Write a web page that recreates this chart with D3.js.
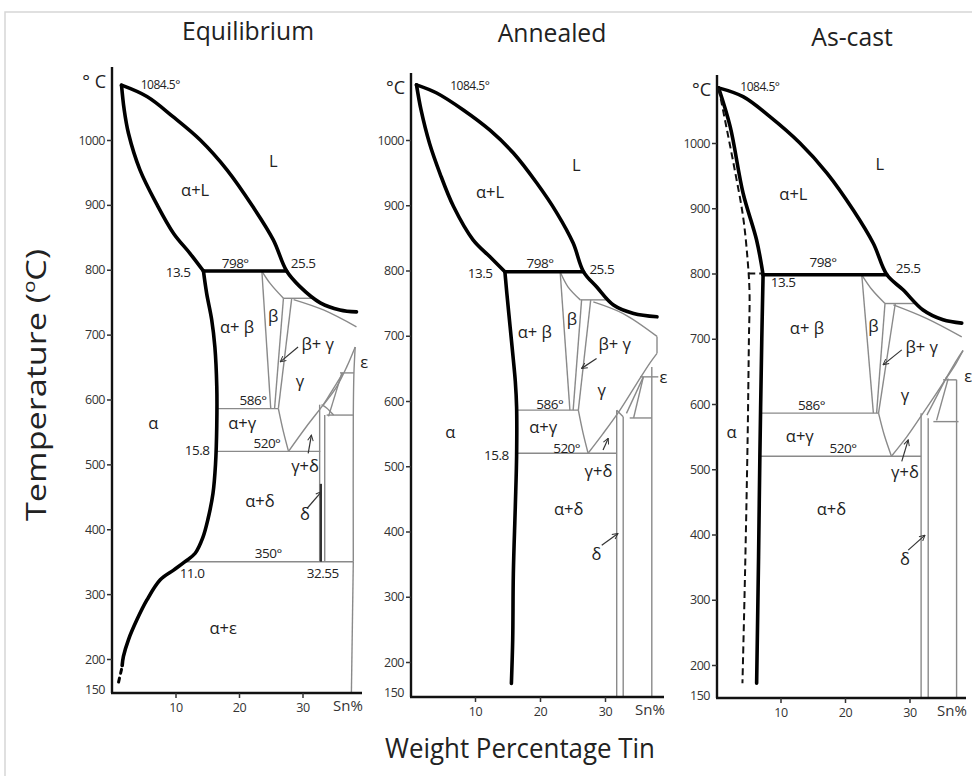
<!DOCTYPE html>
<html><head><meta charset="utf-8">
<script src="https://cdn.jsdelivr.net/npm/d3@7"></script>
<style>body{margin:0;background:#fff}</style>
</head><body><svg id="c" width="972" height="776"></svg>
<script>
// ---------------- DATA (wt% Sn, °C) ----------------
const panelTitles = ["Equilibrium", "Annealed", "As-cast"];
const yTickValues = [200, 300, 400, 500, 600, 700, 800, 900, 1000];
const yBottomLabel = 150;
const xTickValues = [10, 20, 30];
const xUnitLabel = "Sn%";
const unitLabels = ["° C", "°C", "°C"];

// Equilibrium
const eqLiquidus = [[1.5,1084.5],[5.5,1067],[9.6,1036],[13.9,1000],[18.1,954],[22.2,897],[25.4,846],[27.5,798],[29.6,774],[32.8,749],[35.9,738],[38.5,735]];
const eqSolidus = [[1.5,1084.5],[1.9,1048],[2.6,1010],[4.4,954],[7.0,902],[9.7,856],[12.3,825],[14.4,798]];
const eqEutectic = [[14.4,798],[27.5,798]];
const eqSolvus = [[14.4,798],[14.9,764],[15.7,723],[16.2,681],[16.5,620],[16.5,560],[16.3,500],[15.9,455],[15.1,415],[14.3,387],[13.1,363],[11.5,350],[9.7,337],[7.6,322],[5.5,291],[3.9,260],[2.6,230],[1.8,204],[1.6,190]];
const eqSolvusTail = [[1.5,184],[1.0,163]];
const eqDeltaDark = [[32.9,470],[32.9,350]];
const eqPhaseLines = [
  [[23.6,798],[24.9,779],[27.0,756]],
  [[27.0,756],[31.7,756]],
  [[28.6,754],[33.3,738],[38.5,712]],
  [[23.6,798],[25.0,586]],
  [[27.0,756],[25.6,586]],
  [[28.3,756],[26.2,586]],
  [[16.5,586],[26.2,586]],
  [[26.2,586],[27.0,550],[27.8,520]],
  [[16.5,520],[32.8,520]],
  [[27.8,520],[30.6,558],[33.3,592],[35.4,620],[37.0,651],[38.3,681]],
  [[38.3,681],[38.1,641],[38.0,576],[38.0,350]],
  [[38.0,350],[37.7,148]],
  [[35.9,641],[38.1,641]],
  [[33.8,576],[38.0,576]],
  [[33.3,592],[36.4,641]],
  [[34.1,574],[36.2,641]],
  [[33.0,592],[33.8,587],[34.9,576]],
  [[32.7,592],[32.7,350]],
  [[33.5,576],[33.5,350]],
  [[11.5,350],[38.0,350]]
];
const eqArrows = [[[29.3,681],[26.5,658]],[[30.9,517],[31.4,545]],[[30.7,432],[33.0,458]]];
const eqLabels = [
  ["1084.5°",7.6,1085,"s"],["L",25.4,969,"r"],["α+L",13.1,923,"r"],["13.5",10.4,797,"n"],
  ["798°",19.4,810,"n"],["25.5",30.1,810,"n"],["α+ β",19.7,712,"r"],["β",25.4,730,"r"],
  ["β+ γ",32.4,687,"r"],["ε",39.7,658,"r"],["γ",29.6,630,"r"],["586°",22.2,599,"n"],
  ["α",6.5,564,"r"],["α+γ",20.5,565,"r"],["15.8",13.4,522,"n"],["520°",24.4,533,"n"],
  ["γ+δ",30.4,499,"r"],["α+δ",23.3,445,"r"],["δ",30.4,425,"r"],["350°",24.6,364,"n"],
  ["11.0",12.6,333,"n"],["32.55",33.2,333,"n"],["α+ε",17.5,248,"r"]
];

// Annealed
const anLiquidus = [[1.0,1084.5],[4.1,1072],[8.2,1046],[12.3,1015],[15.9,980],[19.5,934],[22.6,888],[25.1,842],[26.7,798],[28.7,775],[31.3,747],[34.4,734],[38.0,729]];
const anSolidus = [[1.0,1084.5],[1.7,1046],[3.0,995],[4.6,949],[6.7,898],[9.7,847],[12.3,821],[14.6,798]];
const anEutectic = [[14.6,798],[26.7,798]];
const anSolvus = [[14.6,798],[14.9,765],[15.4,714],[15.9,663],[16.2,630],[16.4,591],[16.4,515],[16.2,438],[15.9,336],[15.8,234],[15.6,167]];
const anPhaseLines = [
  [[23.1,798],[24.3,775],[26.2,755]],
  [[26.2,755],[30.3,755]],
  [[28.2,752],[32.8,734],[38.0,699]],
  [[38.0,699],[38.0,673]],
  [[23.1,798],[24.6,586]],
  [[26.4,755],[25.1,586]],
  [[27.8,755],[25.9,586]],
  [[16.4,586],[25.9,586]],
  [[25.9,586],[26.6,552],[27.4,520]],
  [[16.4,520],[31.8,520]],
  [[27.4,520],[29.7,550],[32.3,586],[34.9,627],[36.9,658],[38.0,673]],
  [[35.4,637],[37.2,637]],
  [[33.8,574],[37.2,574]],
  [[37.2,652],[37.2,147]],
  [[33.3,581],[35.9,637]],
  [[34.4,574],[35.9,637]],
  [[31.8,586],[31.8,147]],
  [[32.8,576],[32.8,147]],
  [[31.8,586],[32.8,576]],
  [[37.2,637],[38.2,637]]
];
const anArrows = [[[28.7,665],[26.4,650]],[[29.7,525],[30.5,543]],[[29.5,379],[32.0,397]]];
const anLabels = [
  ["1084.5°",9.2,1084,"s"],["L",25.6,962,"r"],["α+L",12.3,921,"r"],["13.5",10.8,796,"n"],
  ["798°",20.0,811,"n"],["25.5",29.5,803,"n"],["α+ β",19.2,706,"r"],["β",24.9,727,"r"],
  ["β+ γ",31.5,688,"r"],["γ",29.5,617,"r"],["586°",21.5,596,"n"],["α",6.2,553,"r"],
  ["α+γ",20.5,561,"r"],["15.8",13.3,517,"n"],["520°",24.1,528,"n"],["γ+δ",29.0,494,"r"],
  ["α+δ",24.4,436,"r"],["δ",28.7,367,"r"],["ε",39.0,637,"r"]
];

// As-cast
const acLiquidus = [[0.4,1084.5],[4.2,1071],[8.4,1040],[13.0,1000],[17.2,954],[21.3,897],[24.4,846],[26.5,798],[29.0,775],[32.1,744],[35.2,729],[38.1,724]];
const acSolidus = [[0.4,1084.5],[2.2,1025],[4.2,923],[6.3,851],[7.3,798]];
const acEutectic = [[7.3,798],[26.5,798]];
const acSolvus = [[7.3,798],[7.1,700],[6.8,519],[6.6,366],[6.3,172]];
const acCoring = [[0.4,1084.5],[1.6,1025],[2.9,959],[4.2,887],[4.9,821],[5.2,770],[5.1,698],[4.9,545],[4.5,340],[4.1,172]];
const acCoringTie = [[5.0,800],[7.2,800]];
const acPhaseLines = [
  [[22.6,798],[24.2,775],[26.2,754]],
  [[26.2,754],[30.8,754]],
  [[27.5,752],[32.7,731],[38.1,703]],
  [[22.6,798],[24.4,586]],
  [[26.2,754],[24.9,586]],
  [[27.8,754],[25.2,586]],
  [[7.0,586],[25.2,586]],
  [[25.2,586],[26.1,552],[27.2,520]],
  [[6.8,520],[31.8,520]],
  [[27.2,520],[29.6,550],[32.1,586],[35.2,632],[37.3,667],[38.3,682]],
  [[35.6,638],[37.2,662],[38.3,682]],
  [[35.2,637],[37.3,637]],
  [[33.7,573],[37.6,573]],
  [[37.3,637],[37.3,149]],
  [[32.7,583],[35.8,642]],
  [[34.2,575],[36.0,639]],
  [[31.8,586],[31.8,149]],
  [[32.9,578],[32.9,149]]
];
const acArrows = [[[28.8,683],[25.9,660]],[[28.8,512],[29.8,545]],[[29.8,376],[32.4,399]]];
const acLabels = [
  ["1084.5°",6.8,1086,"s"],["L",25.4,969,"r"],["α+L",12.0,923,"r"],["798°",16.6,818,"n"],
  ["25.5",29.8,808,"n"],["13.5",10.4,787,"n"],["α+ β",14.1,718,"r"],["β",24.4,721,"r"],
  ["β+ γ",31.9,688,"r"],["γ",29.3,614,"r"],["586°",14.8,598,"n"],["α",2.4,558,"r"],
  ["α+γ",13.0,552,"r"],["520°",19.7,532,"n"],["γ+δ",29.3,496,"r"],["α+δ",17.9,440,"r"],
  ["δ",29.3,363,"r"],["ε",39.1,644,"r"]
];

// ---------------- LAYOUT ----------------
const layouts = [
  {x0:112, px:6.35, y1000:140, y200:659, axTop:67, axY:693, xEnd:362, tx:248, ty:40},
  {x0:410, px:6.5,  y1000:140, y200:662, axTop:73, axY:697, xEnd:664, tx:552, ty:42},
  {x0:716, px:6.45, y1000:143, y200:665, axTop:75, axY:698, xEnd:966, tx:852, ty:46}
];
const panelData = [
  {thick:[eqLiquidus, eqSolidus, eqEutectic, eqSolvus], dashed:[], tail:eqSolvusTail, dark:[eqDeltaDark], gray:eqPhaseLines, arrows:eqArrows, labels:eqLabels},
  {thick:[anLiquidus, anSolidus, anEutectic, anSolvus], dashed:[], tail:null, dark:[], gray:anPhaseLines, arrows:anArrows, labels:anLabels},
  {thick:[acLiquidus, acSolidus, acEutectic, acSolvus], dashed:[acCoring, acCoringTie], tail:null, dark:[], gray:acPhaseLines, arrows:acArrows, labels:acLabels}
];

const FONT = "'Open Sans','Noto Sans',sans-serif";
const svg = d3.select("#c");
svg.append("rect").attr("x",5).attr("y",12).attr("width",1000).attr("height",1000)
  .attr("fill","none").attr("stroke","#d6d6d6").attr("stroke-width",1.5);

const defs = svg.append("defs");
defs.append("marker").attr("id","arr").attr("viewBox","0 0 10 10").attr("refX",9).attr("refY",5)
  .attr("markerWidth",7).attr("markerHeight",7).attr("orient","auto").attr("markerUnits","userSpaceOnUse")
  .append("path").attr("d","M1,1 L9,5 L1,9").attr("fill","none").attr("stroke","#333").attr("stroke-width",1.4);

layouts.forEach((L, i) => {
  const D = panelData[i];
  const g = svg.append("g");
  const x = d3.scaleLinear().domain([0,10]).range([L.x0, L.x0 + 10*L.px]);
  const y = d3.scaleLinear().domain([200,1000]).range([L.y200, L.y1000]);
  const smooth = d3.line().x(d=>x(d[0])).y(d=>y(d[1])).curve(d3.curveCatmullRom.alpha(0.5));
  const straight = d3.line().x(d=>x(d[0])).y(d=>y(d[1]));

  svg.append("text").attr("x",L.tx).attr("y",L.ty).attr("text-anchor","middle")
    .attr("font-family",FONT).attr("font-size",26).attr("fill","#222")
    .attr("transform",`translate(${L.tx},${L.ty}) scale(0.95,1) translate(${-L.tx},${-L.ty})`)
    .text(panelTitles[i]);

  D.gray.forEach(seg => g.append("path").attr("d", seg.length>2?smooth(seg):straight(seg))
    .attr("fill","none").attr("stroke","#8a8a8a").attr("stroke-width",1.4));
  D.dark.forEach(seg => g.append("path").attr("d", straight(seg))
    .attr("fill","none").attr("stroke","#333").attr("stroke-width",2.2));
  D.thick.forEach(seg => g.append("path").attr("d", seg.length>2?smooth(seg):straight(seg))
    .attr("fill","none").attr("stroke","#000").attr("stroke-width",3.6).attr("stroke-linejoin","round").attr("stroke-linecap","round"));
  D.dashed.forEach(seg => g.append("path").attr("d", seg.length>2?smooth(seg):straight(seg))
    .attr("fill","none").attr("stroke","#111").attr("stroke-width",2).attr("stroke-dasharray","7,4"));
  if (D.tail) g.append("path").attr("d", straight(D.tail)).attr("fill","none").attr("stroke","#000")
    .attr("stroke-width",3).attr("stroke-dasharray","4,5").attr("stroke-linecap","round");

  D.arrows.forEach(a => g.append("path").attr("d", straight(a)).attr("fill","none")
    .attr("stroke","#333").attr("stroke-width",1.2).attr("marker-end","url(#arr)"));

  D.labels.forEach(([t,p,T,k]) => g.append("text").attr("x",x(p)).attr("y",y(T))
    .attr("text-anchor","middle").attr("dominant-baseline","central")
    .attr("font-family",FONT).attr("font-size", k==="r"?16.5:(k==="s"?12:13.5))
    .attr("letter-spacing", k==="r"?0:-0.5)
    .attr("fill","#222").text(t));

  const axX = x(0) + (i===0?0:1);
  g.append("line").attr("x1",axX).attr("x2",axX).attr("y1",L.axTop).attr("y2",L.axY)
    .attr("stroke","#111").attr("stroke-width",2.4);
  g.append("line").attr("x1",axX-1).attr("x2",L.xEnd).attr("y1",L.axY).attr("y2",L.axY)
    .attr("stroke","#111").attr("stroke-width",2.4);

  const ya = d3.axisLeft(y).tickValues(yTickValues).tickSize(5).tickPadding(2).tickFormat(d3.format("d"));
  const yg = g.append("g").attr("transform",`translate(${axX},0)`).call(ya);
  yg.select(".domain").remove();
  yg.selectAll("line").attr("stroke","#333").attr("stroke-width",1.5);
  yg.selectAll("text").attr("font-family",FONT).attr("font-size",12.5).attr("letter-spacing",-0.5).attr("fill","#333");
  g.append("text").attr("x",axX-7).attr("y",y(yBottomLabel)-2).attr("text-anchor","end").attr("dominant-baseline","central")
    .attr("font-family",FONT).attr("font-size",12.5).attr("letter-spacing",-0.5).attr("fill","#333").text(yBottomLabel);

  const xa = d3.axisBottom(x).tickValues(xTickValues).tickSize(5).tickPadding(5).tickFormat(d3.format("d"));
  const xg = g.append("g").attr("transform",`translate(0,${L.axY})`).call(xa);
  xg.select(".domain").remove();
  xg.selectAll("line").attr("stroke","#333").attr("stroke-width",1.5);
  xg.selectAll("text").attr("font-family",FONT).attr("font-size",12.5).attr("letter-spacing",-0.5).attr("fill","#333");
  g.append("text").attr("x",L.xEnd-14).attr("y",L.axY+18).attr("text-anchor","middle")
    .attr("font-family",FONT).attr("font-size",15).attr("fill","#333").text(xUnitLabel);

  g.append("text").attr("x",axX-6).attr("y",L.axTop+21).attr("text-anchor","end")
    .attr("font-family",FONT).attr("font-size",18).attr("fill","#222").text(unitLabels[i]);
});

const yt = svg.append("text").attr("transform","translate(46,385) rotate(-90)").attr("text-anchor","middle")
  .attr("font-family",FONT).attr("font-size",28).attr("fill","#222")
  .attr("textLength",272).attr("lengthAdjust","spacingAndGlyphs");
yt.append("tspan").text("Temperature (");
yt.append("tspan").attr("font-size",17).attr("dy",-11).text("o");
yt.append("tspan").attr("dy",11).text("C)");
svg.append("text").attr("x",520).attr("y",758).attr("text-anchor","middle")
  .attr("font-family",FONT).attr("font-size",27).attr("fill","#222")
  .attr("textLength",270).attr("lengthAdjust","spacingAndGlyphs").text("Weight Percentage Tin");
</script></body></html>
